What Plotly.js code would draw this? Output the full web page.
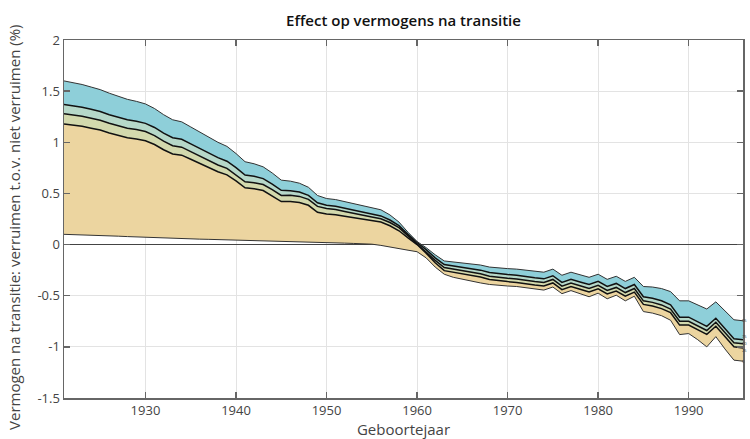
<!DOCTYPE html>
<html>
<head>
<meta charset="utf-8">
<script src="https://cdn.plot.ly/plotly-3.0.1.min.js"></script>
<style>html,body{margin:0;padding:0;background:#fff;}#chart{width:750px;height:439px;}</style>
</head>
<body>
<div id="chart"></div>
<script>
var years = [1921,1922,1923,1924,1925,1926,1927,1928,1929,1930,1931,1932,1933,1934,1935,1936,1937,1938,1939,1940,
1941,1942,1943,1944,1945,1946,1947,1948,1949,1950,1951,1952,1953,1954,1955,1956,1957,1958,1959,1960,
1961,1962,1963,1964,1965,1966,1967,1968,1969,1970,1971,1972,1973,1974,1975,1976,1977,1978,1979,1980,
1981,1982,1983,1984,1985,1986,1987,1988,1989,1990,1991,1992,1993,1994,1995,1996];

var line1 = [1.60,1.585,1.565,1.54,1.515,1.48,1.45,1.42,1.40,1.375,1.33,1.27,1.22,1.20,1.15,1.10,1.05,1.00,0.96,0.89,
0.81,0.79,0.76,0.70,0.63,0.62,0.60,0.56,0.48,0.45,0.44,0.42,0.40,0.38,0.365,0.34,0.29,0.22,0.12,0.03,
-0.03,-0.10,-0.16,-0.17,-0.18,-0.19,-0.20,-0.22,-0.23,-0.235,-0.24,-0.25,-0.26,-0.27,-0.24,-0.30,-0.27,-0.295,-0.32,-0.29,
-0.34,-0.31,-0.36,-0.32,-0.41,-0.415,-0.43,-0.46,-0.55,-0.55,-0.59,-0.63,-0.56,-0.65,-0.735,-0.745];

var line2 = [1.37,1.359,1.343,1.322,1.301,1.27,1.245,1.22,1.205,1.185,1.145,1.09,1.045,1.03,0.985,0.94,0.895,0.85,0.815,0.752,
0.68,0.667,0.645,0.592,0.53,0.527,0.514,0.481,0.408,0.385,0.375,0.355,0.335,0.315,0.30,0.28,0.24,0.185,0.10,0.02,
-0.05,-0.13,-0.195,-0.208,-0.222,-0.236,-0.25,-0.273,-0.286,-0.293,-0.30,-0.315,-0.325,-0.335,-0.305,-0.37,-0.34,-0.365,-0.39,-0.36,
-0.41,-0.38,-0.43,-0.39,-0.51,-0.525,-0.55,-0.59,-0.71,-0.71,-0.755,-0.80,-0.72,-0.82,-0.92,-0.93];

var line3 = [1.28,1.27,1.255,1.235,1.216,1.186,1.162,1.138,1.124,1.105,1.065,1.011,0.966,0.952,0.909,0.865,0.822,0.778,0.745,0.683,
0.613,0.604,0.587,0.538,0.48,0.481,0.471,0.442,0.373,0.353,0.343,0.324,0.304,0.285,0.27,0.253,0.216,0.165,0.085,0.01,
-0.067,-0.154,-0.225,-0.24,-0.256,-0.271,-0.286,-0.309,-0.322,-0.329,-0.336,-0.351,-0.361,-0.371,-0.341,-0.407,-0.377,-0.402,-0.428,-0.398,
-0.448,-0.419,-0.469,-0.43,-0.55,-0.565,-0.59,-0.63,-0.75,-0.75,-0.795,-0.84,-0.76,-0.86,-0.96,-0.97];

var line4 = [1.18,1.171,1.157,1.138,1.12,1.091,1.068,1.045,1.032,1.015,0.978,0.927,0.885,0.874,0.834,0.793,0.753,0.712,0.682,0.623,
0.555,0.546,0.528,0.478,0.42,0.421,0.412,0.384,0.316,0.298,0.292,0.277,0.261,0.246,0.235,0.22,0.184,0.135,0.065,0.0,
-0.084,-0.178,-0.255,-0.27,-0.287,-0.302,-0.318,-0.341,-0.355,-0.362,-0.37,-0.385,-0.395,-0.405,-0.375,-0.441,-0.411,-0.436,-0.463,-0.433,
-0.483,-0.454,-0.504,-0.465,-0.585,-0.60,-0.626,-0.666,-0.787,-0.787,-0.833,-0.878,-0.799,-0.899,-1.0,-1.01];

var line5 = [0.10,0.098,0.096,0.094,0.09,0.086,0.082,0.078,0.074,0.07,0.067,0.064,0.061,0.058,0.055,0.053,0.051,0.049,0.047,0.045,
0.043,0.041,0.039,0.037,0.035,0.032,0.029,0.026,0.023,0.02,0.017,0.014,0.011,0.008,0.004,-0.008,-0.025,-0.045,-0.055,-0.07,
-0.13,-0.22,-0.29,-0.32,-0.34,-0.36,-0.375,-0.39,-0.40,-0.405,-0.41,-0.42,-0.43,-0.445,-0.415,-0.48,-0.45,-0.48,-0.51,-0.475,
-0.53,-0.495,-0.55,-0.505,-0.655,-0.67,-0.695,-0.74,-0.88,-0.87,-0.93,-1.0,-0.90,-1.02,-1.13,-1.14];

var endLabels = ["95","75","50","25","5"];
var xTicks = [1930,1940,1950,1960,1970,1980,1990];
var yTicks = [-1.5,-1,-0.5,0,0.5,1,1.5,2];
var yTickText = ["-1.5","-1","-0.5","0","0.5","1","1.5","2"];

var bandColors = ["#8ecfd9","#b6d8c9","#d3d9ad","#ecd5a0"];
var series = [line1,line2,line3,line4,line5];
var labelShift = [0,3,0,-3,0];

var traces = [];
traces.push({x:years,y:line5,type:'scatter',mode:'lines',line:{color:'#333',width:1},hoverinfo:'skip',showlegend:false});
traces.push({x:years,y:line4,type:'scatter',mode:'lines',fill:'tonexty',fillcolor:bandColors[3],line:{color:'#111',width:1.5},hoverinfo:'skip',showlegend:false});
traces.push({x:years,y:line3,type:'scatter',mode:'lines',fill:'tonexty',fillcolor:bandColors[2],line:{color:'#111',width:1.5},hoverinfo:'skip',showlegend:false});
traces.push({x:years,y:line2,type:'scatter',mode:'lines',fill:'tonexty',fillcolor:bandColors[1],line:{color:'#111',width:1.5},hoverinfo:'skip',showlegend:false});
traces.push({x:years,y:line1,type:'scatter',mode:'lines',fill:'tonexty',fillcolor:bandColors[0],line:{color:'#333',width:1},hoverinfo:'skip',showlegend:false});

var annotations = [];
for (var i=0;i<series.length;i++){
  annotations.push({x:years[years.length-1],y:series[i][series[i].length-1],xref:'x',yref:'y',text:endLabels[i],
    showarrow:false,xanchor:'left',yanchor:'middle',font:{size:4,color:'#333',family:'Open Sans'},xshift:-2,yshift:labelShift[i],
    borderpad:0});
}
annotations.push({xref:'paper',yref:'paper',x:0,y:0.475,xshift:-50,xanchor:'center',yanchor:'middle',textangle:-90,showarrow:false,
  text:'Vermogen na transitie: verruimen t.o.v. niet verruimen (%)',font:{family:'Open Sans',size:15,color:'#444'}});

var axisCommon = {showline:true,linecolor:'#666',linewidth:1.5,mirror:'ticks',ticks:'inside',ticklen:6,tickwidth:1.5,tickcolor:'#666',
  showgrid:true,gridcolor:'#e3e3e3',gridwidth:1,tickfont:{family:'Open Sans',size:13,color:'#444'}};

var layout = {
  width:750,height:439,
  margin:{l:64,r:7,t:40,b:41},
  paper_bgcolor:'#fff',plot_bgcolor:'#fff',
  title:{text:'Effect op vermogens na transitie',font:{family:'Open Sans',size:15,weight:600,color:'#111'},x:0.538,xanchor:'center',y:0.953,yanchor:'middle'},
  xaxis:Object.assign({},axisCommon,{range:[1921,1996],tickvals:xTicks,zeroline:false,
    title:{text:'Geboortejaar',font:{family:'Open Sans',size:15,color:'#444'},standoff:2}}),
  yaxis:Object.assign({},axisCommon,{range:[-1.5,2],tickvals:yTicks,ticktext:yTickText,zeroline:true,zerolinecolor:'#444',zerolinewidth:1}),
  annotations:annotations,
  showlegend:false
};

Plotly.newPlot('chart',traces,layout,{displayModeBar:false,staticPlot:true});
</script>
</body>
</html>
